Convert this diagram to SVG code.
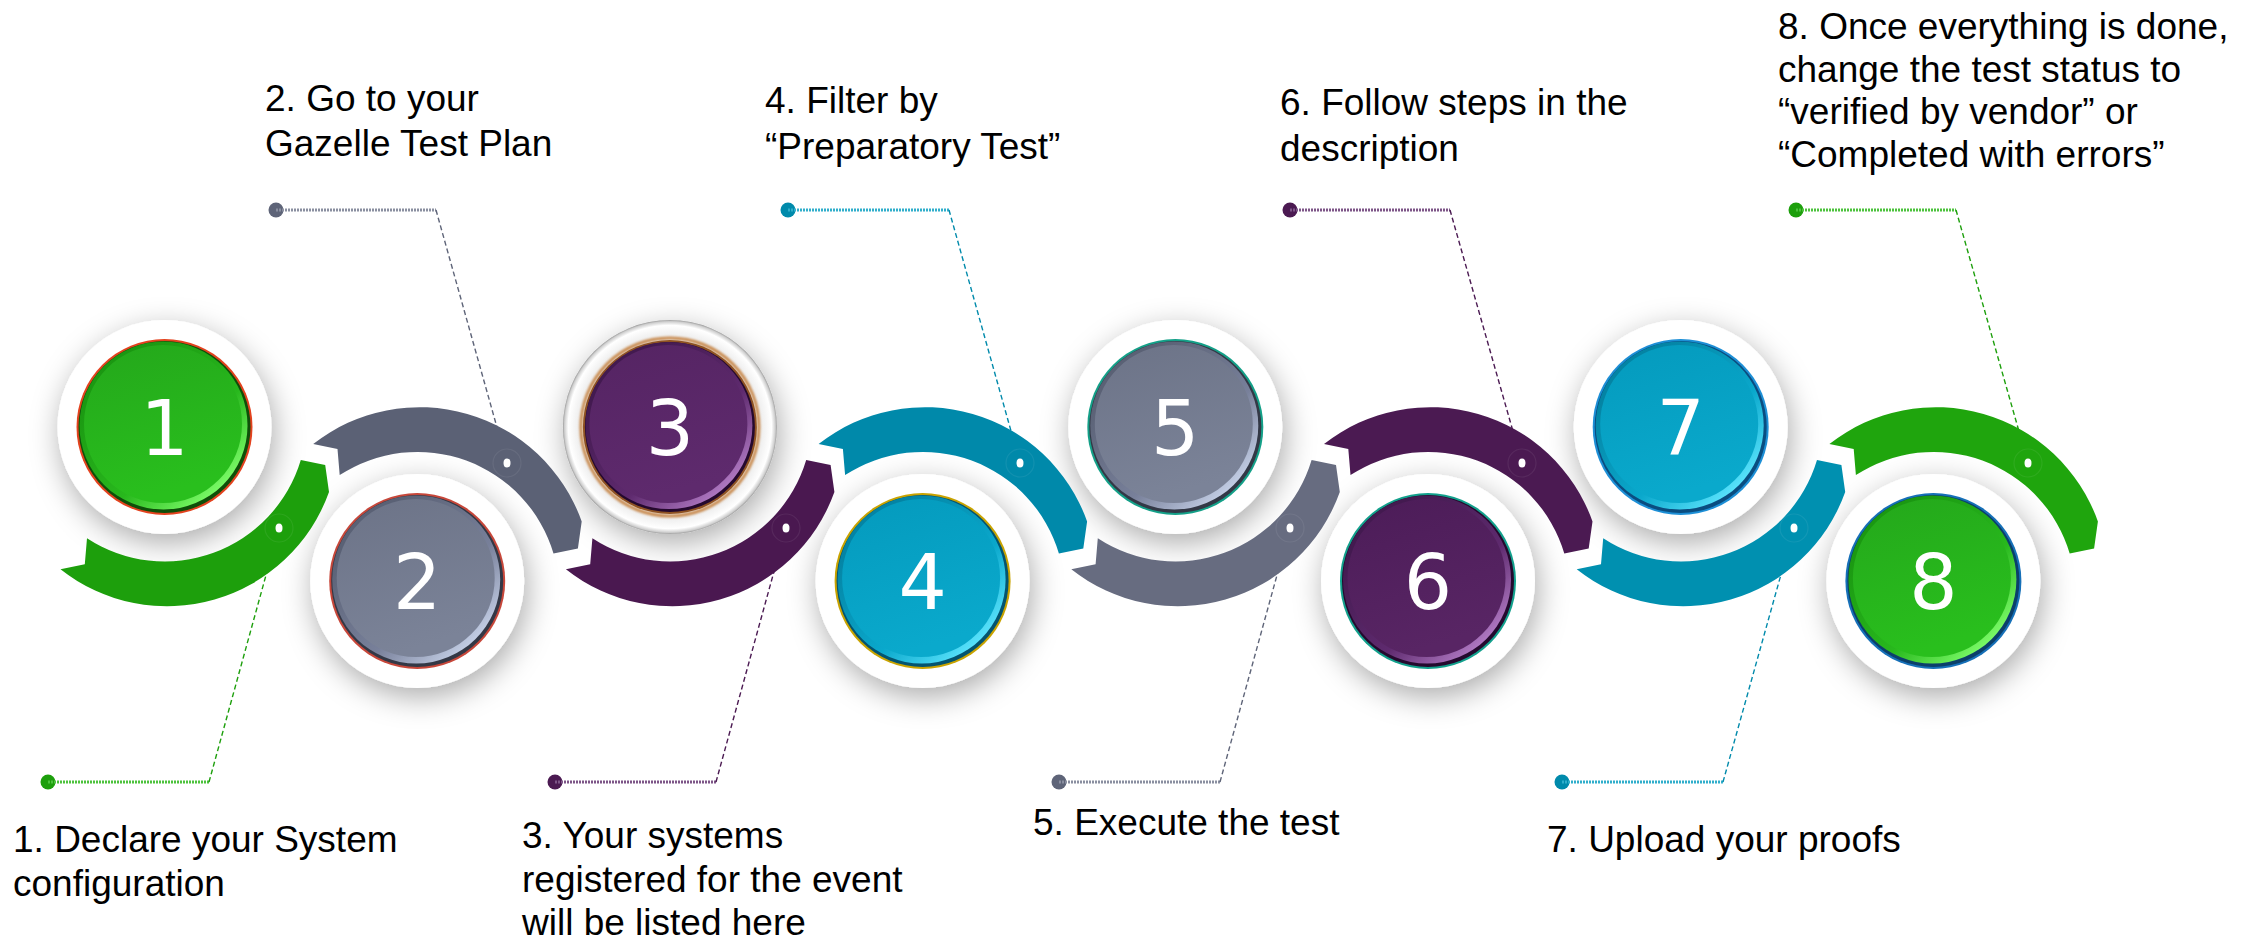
<svg xmlns="http://www.w3.org/2000/svg" xmlns:xlink="http://www.w3.org/1999/xlink" width="2263" height="942" viewBox="0 0 2263 942">
<style>
.lbl{font-family:"Liberation Sans",Arial,sans-serif;font-size:37px;fill:#000}
.num{font-family:"DejaVu Sans","Liberation Sans",sans-serif;font-size:76px;fill:#fff;text-anchor:middle}
.plate{fill:#fff;filter:url(#sh)}
.hd{fill:none;stroke-width:3;stroke-dasharray:2 1}
.dg{fill:none;stroke-width:1.4;stroke-dasharray:5 3}
.dot{fill:#fff}
.ring{fill:none;stroke:#fff;stroke-opacity:.07;stroke-width:1.2}
</style>
<defs>
<filter id="sh" x="-50%" y="-50%" width="200%" height="200%"><feDropShadow dx="3" dy="9" stdDeviation="15" flood-color="#000" flood-opacity="0.33"/></filter>
<filter id="fz" x="-10%" y="-10%" width="120%" height="120%"><feGaussianBlur stdDeviation="0.9"/></filter>
<linearGradient id="hlG" x1="0.2" y1="0.2" x2="0.85" y2="0.9"><stop offset="0" stop-color="#1b9812"/><stop offset="0.6" stop-color="#28b81d"/><stop offset="1" stop-color="#80ff6c"/></linearGradient>
<linearGradient id="hlS" x1="0.2" y1="0.2" x2="0.85" y2="0.9"><stop offset="0" stop-color="#5a6175"/><stop offset="0.6" stop-color="#78809a"/><stop offset="1" stop-color="#c8d3ea"/></linearGradient>
<linearGradient id="hlP" x1="0.2" y1="0.2" x2="0.85" y2="0.9"><stop offset="0" stop-color="#431a50"/><stop offset="0.6" stop-color="#5e2a6e"/><stop offset="1" stop-color="#b57ec8"/></linearGradient>
<linearGradient id="hlT" x1="0.2" y1="0.2" x2="0.85" y2="0.9"><stop offset="0" stop-color="#0484a4"/><stop offset="0.6" stop-color="#0aa8cc"/><stop offset="1" stop-color="#5ee6ff"/></linearGradient>
<linearGradient id="fG" x1="0" y1="0" x2="0.3" y2="1"><stop offset="0" stop-color="#24a71b"/><stop offset="1" stop-color="#29bf1d"/></linearGradient>
<linearGradient id="fS" x1="0" y1="0" x2="0.3" y2="1"><stop offset="0" stop-color="#6c7387"/><stop offset="1" stop-color="#7b8398"/></linearGradient>
<linearGradient id="fP" x1="0" y1="0" x2="0.3" y2="1"><stop offset="0" stop-color="#552463"/><stop offset="1" stop-color="#5e2a6d"/></linearGradient>
<linearGradient id="fP2" x1="0" y1="0" x2="0.3" y2="1"><stop offset="0" stop-color="#4c1c58"/><stop offset="1" stop-color="#582564"/></linearGradient>
<linearGradient id="fT" x1="0" y1="0" x2="0.3" y2="1"><stop offset="0" stop-color="#049abd"/><stop offset="1" stop-color="#0aa9cc"/></linearGradient>
<radialGradient id="metal" cx="0.5" cy="0.5" r="0.5"><stop offset="0" stop-color="#fafafa"/><stop offset="0.84" stop-color="#ececec"/><stop offset="0.9" stop-color="#f6f6f6"/><stop offset="0.95" stop-color="#ffffff"/><stop offset="0.985" stop-color="#cfcfcf"/><stop offset="1" stop-color="#9c9c9c"/></radialGradient>
<path id="rOdd" d="M164.5,492 A172,172 0 0 1 -104,569.3 L-79.7,564.3 L-77.5,538.3 A142,142 0 0 0 136.3,460 L160.7,465 Z"/>
<path id="rEven" d="M164.5,521.4 A172,172 0 0 0 -104,444.1 L-79.7,449.1 L-77.5,475.1 A142,142 0 0 1 136.3,553.4 L160.7,548.4 Z"/>
</defs>
<rect width="2263" height="942" fill="#fff"/>

<g id="step1">
<circle cx="164.5" cy="427" r="107" class="plate"/>
<circle cx="164.5" cy="427" r="88" fill="#e3421e"/>
<circle cx="164.5" cy="427" r="86" fill="#0e4f09"/>
<circle cx="163.5" cy="425.5" r="84" fill="url(#hlG)"/>
<circle cx="163" cy="424" r="79" fill="url(#fG)"/>
<text x="164.5" y="455" class="num">1</text>
</g>
<g id="step2">
<circle cx="417.2" cy="581" r="107" class="plate"/>
<circle cx="417.2" cy="581" r="88" fill="#c7473a"/>
<circle cx="417.2" cy="581" r="86" fill="#333846"/>
<circle cx="416.2" cy="579.5" r="84" fill="url(#hlS)"/>
<circle cx="415.7" cy="578" r="79" fill="url(#fS)"/>
<text x="417.2" y="609" class="num">2</text>
</g>
<g id="step3">
<circle cx="669.9" cy="427" r="107" fill="url(#metal)" filter="url(#sh)"/>
<circle cx="669.9" cy="427" r="89" fill="none" stroke="#c98a4e" stroke-width="3" filter="url(#fz)"/>
<circle cx="669.9" cy="427" r="87" fill="#8f5222"/>
<circle cx="669.9" cy="427" r="85" fill="#25092e"/>
<circle cx="668.9" cy="425.5" r="83.5" fill="url(#hlP)"/>
<circle cx="668.4" cy="424" r="79" fill="url(#fP)"/>
<text x="669.9" y="455" class="num">3</text>
</g>
<g id="step4">
<circle cx="922.6" cy="581" r="107" class="plate"/>
<circle cx="922.6" cy="581" r="88" fill="#c9a300"/>
<circle cx="922.6" cy="581" r="86" fill="#035470"/>
<circle cx="921.6" cy="579.5" r="84" fill="url(#hlT)"/>
<circle cx="921.1" cy="578" r="79" fill="url(#fT)"/>
<text x="922.6" y="609" class="num">4</text>
</g>
<g id="step5">
<circle cx="1175.3" cy="427" r="107" class="plate"/>
<circle cx="1175.3" cy="427" r="88" fill="#14a088"/>
<circle cx="1175.3" cy="427" r="86" fill="#333846"/>
<circle cx="1174.3" cy="425.5" r="84" fill="url(#hlS)"/>
<circle cx="1173.8" cy="424" r="79" fill="url(#fS)"/>
<text x="1175.3" y="455" class="num">5</text>
</g>
<g id="step6">
<circle cx="1428" cy="581" r="107" class="plate"/>
<circle cx="1428" cy="581" r="88" fill="#12a08c"/>
<circle cx="1428" cy="581" r="86" fill="#25092e"/>
<circle cx="1427" cy="579.5" r="84" fill="url(#hlP)"/>
<circle cx="1426.5" cy="578" r="79" fill="url(#fP2)"/>
<text x="1428" y="609" class="num">6</text>
</g>
<g id="step7">
<circle cx="1680.7" cy="427" r="107" class="plate"/>
<circle cx="1680.7" cy="427" r="88" fill="#1d8fd6"/>
<circle cx="1680.7" cy="427" r="86" fill="#0a4d80"/>
<circle cx="1679.7" cy="425.5" r="84" fill="url(#hlT)"/>
<circle cx="1679.2" cy="424" r="79" fill="url(#fT)"/>
<text x="1680.7" y="455" class="num">7</text>
</g>
<g id="step8">
<circle cx="1933.4" cy="581" r="107" class="plate"/>
<circle cx="1933.4" cy="581" r="88" fill="#1670b8"/>
<circle cx="1933.4" cy="581" r="86" fill="#0b3f6a"/>
<circle cx="1932.4" cy="579.5" r="84" fill="url(#hlG)"/>
<circle cx="1931.9" cy="578" r="79" fill="url(#fG)"/>
<text x="1933.4" y="609" class="num">8</text>
</g>

<g id="connectors">
<circle cx="48" cy="782" r="7.5" fill="#1d9f0c"/>
<line x1="48" y1="782" x2="209" y2="782" class="hd" stroke="#4cc23c"/>
<line x1="209" y1="782" x2="279" y2="528" class="dg" stroke="#1d9f0c"/>
<circle cx="276" cy="210" r="7.5" fill="#5e6478"/>
<line x1="276" y1="210" x2="436" y2="210" class="hd" stroke="#8a8fa0"/>
<line x1="436" y1="210" x2="507" y2="463" class="dg" stroke="#5e6478"/>
<circle cx="555" cy="782" r="7.5" fill="#4b1a52"/>
<line x1="555" y1="782" x2="716" y2="782" class="hd" stroke="#7d5587"/>
<line x1="716" y1="782" x2="786" y2="528" class="dg" stroke="#4b1a52"/>
<circle cx="788" cy="210" r="7.5" fill="#008aab"/>
<line x1="788" y1="210" x2="949" y2="210" class="hd" stroke="#30aecb"/>
<line x1="949" y1="210" x2="1020" y2="463" class="dg" stroke="#008aab"/>
<circle cx="1059" cy="782" r="7.5" fill="#5e6478"/>
<line x1="1059" y1="782" x2="1220" y2="782" class="hd" stroke="#8a8fa0"/>
<line x1="1220" y1="782" x2="1290" y2="528" class="dg" stroke="#5e6478"/>
<circle cx="1290" cy="210" r="7.5" fill="#4b1a52"/>
<line x1="1290" y1="210" x2="1450" y2="210" class="hd" stroke="#7d5587"/>
<line x1="1450" y1="210" x2="1522" y2="463" class="dg" stroke="#4b1a52"/>
<circle cx="1562" cy="782" r="7.5" fill="#008aab"/>
<line x1="1562" y1="782" x2="1723" y2="782" class="hd" stroke="#30aecb"/>
<line x1="1723" y1="782" x2="1794" y2="528" class="dg" stroke="#008aab"/>
<circle cx="1796" cy="210" r="7.5" fill="#1d9f0c"/>
<line x1="1796" y1="210" x2="1956" y2="210" class="hd" stroke="#4cc23c"/>
<line x1="1956" y1="210" x2="2028" y2="463" class="dg" stroke="#1d9f0c"/>
</g>

<g id="ribbons">
<use xlink:href="#rOdd" x="164.5" fill="#1d9f0c"/>
<use xlink:href="#rEven" x="417.2" fill="#5b6175"/>
<use xlink:href="#rOdd" x="669.9" fill="#4a1850"/>
<use xlink:href="#rEven" x="922.6" fill="#0089aa"/>
<use xlink:href="#rOdd" x="1175.3" fill="#676c80"/>
<use xlink:href="#rEven" x="1428" fill="#4b1a52"/>
<use xlink:href="#rOdd" x="1680.7" fill="#0090b0"/>
<use xlink:href="#rEven" x="1933.4" fill="#1fa50d"/>
<circle cx="279" cy="528" r="14" class="ring"/><ellipse cx="279" cy="528" rx="3.5" ry="4.5" class="dot"/>
<circle cx="507" cy="463" r="14" class="ring"/><ellipse cx="507" cy="463" rx="3.5" ry="4.5" class="dot"/>
<circle cx="786" cy="528" r="14" class="ring"/><ellipse cx="786" cy="528" rx="3.5" ry="4.5" class="dot"/>
<circle cx="1020" cy="463" r="14" class="ring"/><ellipse cx="1020" cy="463" rx="3.5" ry="4.5" class="dot"/>
<circle cx="1290" cy="528" r="14" class="ring"/><ellipse cx="1290" cy="528" rx="3.5" ry="4.5" class="dot"/>
<circle cx="1522" cy="463" r="14" class="ring"/><ellipse cx="1522" cy="463" rx="3.5" ry="4.5" class="dot"/>
<circle cx="1794" cy="528" r="14" class="ring"/><ellipse cx="1794" cy="528" rx="3.5" ry="4.5" class="dot"/>
<circle cx="2028" cy="463" r="14" class="ring"/><ellipse cx="2028" cy="463" rx="3.5" ry="4.5" class="dot"/>
</g>

<g id="labels">
<text class="lbl" x="13" y="852">1. Declare your System</text>
<text class="lbl" x="13" y="896">configuration</text>
<text class="lbl" x="265" y="111">2. Go to your</text>
<text class="lbl" x="265" y="156">Gazelle Test Plan</text>
<text class="lbl" x="522" y="848">3. Your systems</text>
<text class="lbl" x="522" y="892">registered for the event</text>
<text class="lbl" x="522" y="935">will be listed here</text>
<text class="lbl" x="765" y="113">4. Filter by</text>
<text class="lbl" x="765" y="159">“Preparatory Test”</text>
<text class="lbl" x="1033" y="835">5. Execute the test</text>
<text class="lbl" x="1280" y="115">6. Follow steps in the</text>
<text class="lbl" x="1280" y="161">description</text>
<text class="lbl" x="1547" y="852">7. Upload your proofs</text>
<text class="lbl" x="1778" y="39">8. Once everything is done,</text>
<text class="lbl" x="1778" y="82">change the test status to</text>
<text class="lbl" x="1778" y="124">“verified by vendor” or</text>
<text class="lbl" x="1778" y="167">“Completed with errors”</text>
</g>
</svg>
